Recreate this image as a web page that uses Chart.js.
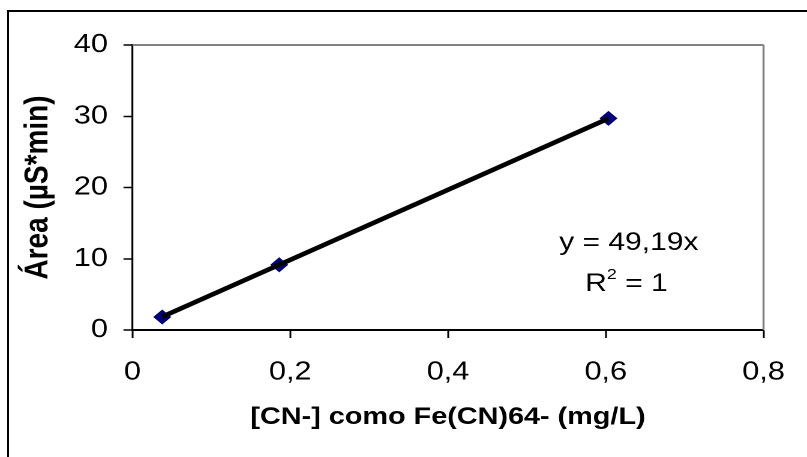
<!DOCTYPE html>
<html>
<head>
<meta charset="utf-8">
<script src="https://cdn.jsdelivr.net/npm/chart.js@4.4.0/dist/chart.umd.min.js"></script>
<style>
    html, body { margin: 0; padding: 0; background: #fff; overflow: hidden; width: 807px; height: 457px; }
    /* moldura do gráfico (só as bordas superior e esquerda ficam visíveis) */
    #frame { position: absolute; left: 7px; top: 10px; width: 900px; height: 500px;
             border-left: 2px solid #000; border-top: 2px solid #000; }
    /* o gráfico original é esticado na horizontal */
    #wrap { position: absolute; left: 0; top: 0; width: 673px; height: 457px;
            transform: scaleX(1.2); transform-origin: 0 0; }
</style>
</head>
<body>
<div id="frame"></div>
<div id="wrap"><canvas id="chart" width="673" height="457"></canvas></div>
<script>
// curva de calibração: [CN-] (mg/L) x área do pico (µS*min)
const concentracoes = [0.0377, 0.186, 0.6034];
const areas = [1.82, 9.15, 29.7];
const inclinacao = 49.19; // y = 49,19x
const xTicks = ['0', '0,2', '0,4', '0,6', '0,8'];
const yTicks = ['0', '10', '20', '30', '40'];

const fonte = 'Arial, "Liberation Sans", sans-serif';

// linha de tendência entre o menor e o maior ponto
const xMin = Math.min(...concentracoes);
const xMax = Math.max(...concentracoes);
const tendencia = [
    { x: xMin, y: inclinacao * xMin },
    { x: xMax, y: inclinacao * xMax }
];

// bordas cinzas do topo e da direita da área de plotagem
const bordaPlot = {
    id: 'bordaPlot',
    beforeDatasetsDraw(chart) {
        const { ctx, chartArea: a } = chart;
        ctx.save();
        ctx.strokeStyle = '#808080';
        ctx.lineWidth = 2;
        ctx.beginPath();
        ctx.moveTo(a.left, a.top);
        ctx.lineTo(a.right, a.top);
        ctx.stroke();
        ctx.lineWidth = 1.7;
        ctx.beginPath();
        ctx.moveTo(a.right, a.top);
        ctx.lineTo(a.right, a.bottom);
        ctx.stroke();
        ctx.restore();
    }
};

// equação da reta e R²
const equacao = {
    id: 'equacao',
    afterDatasetsDraw(chart) {
        const ctx = chart.ctx;
        const cx = 524, y1 = 250, y2 = 291;
        const grande = '25px ' + fonte, pequena = '15px ' + fonte;
        ctx.save();
        ctx.fillStyle = '#000';
        ctx.textBaseline = 'alphabetic';
        ctx.font = grande;
        ctx.textAlign = 'center';
        ctx.fillText('y = ' + inclinacao.toFixed(2).replace('.', ',') + 'x', cx, y1);

        ctx.textAlign = 'left';
        const wR = ctx.measureText('R').width;
        const wEq = ctx.measureText(' = 1').width;
        ctx.font = pequena;
        const w2 = ctx.measureText('2').width;
        let x = cx - 2 - (wR + w2 + wEq) / 2;
        ctx.font = grande;
        ctx.fillText('R', x, y2);
        x += wR;
        ctx.font = pequena;
        ctx.fillText('2', x, y2 - 12);
        x += w2;
        ctx.font = grande;
        ctx.fillText(' = 1', x, y2);
        ctx.restore();
    }
};

new Chart(document.getElementById('chart'), {
    type: 'scatter',
    data: {
        datasets: [{
            label: 'tendência',
            type: 'line',
            data: tendencia,
            borderColor: '#000',
            borderWidth: 4.5,
            pointRadius: 0,
            fill: false,
            order: 0
        }, {
            label: 'Área',
            data: concentracoes.map((c, i) => ({ x: c, y: areas[i] })),
            pointStyle: 'rectRot',
            pointRadius: 6.8,
            backgroundColor: '#000080',
            borderColor: '#000060',
            borderWidth: 1,
            order: 1
        }]
    },
    options: {
        responsive: false,
        devicePixelRatio: 2,
        animation: false,
        layout: { padding: { left: 0, top: 45, right: 29.7, bottom: 0 } },
        plugins: { legend: { display: false }, tooltip: { enabled: false } },
        scales: {
            x: {
                type: 'linear',
                min: 0,
                max: 0.8,
                ticks: {
                    stepSize: 0.2,
                    padding: 19,
                    color: '#000',
                    font: { family: fonte, size: 25.5 },
                    callback: (v, i) => xTicks[i]
                },
                grid: { drawOnChartArea: false, drawTicks: true, tickLength: 8, color: '#000', tickWidth: 1.5 },
                border: { display: true, color: '#000', width: 2 },
                title: {
                    display: true,
                    text: '[CN-] como Fe(CN)64- (mg/L)',
                    color: '#000',
                    font: { family: fonte, size: 24, weight: 'bold' },
                    padding: { top: 0, bottom: 25 }
                },
                afterFit(scale) { scale.height = 127; }
            },
            y: {
                min: 0,
                max: 40,
                ticks: {
                    stepSize: 10,
                    padding: 13,
                    color: '#000',
                    font: { family: fonte, size: 25.5 },
                    callback: (v, i) => yTicks[i]
                },
                grid: { drawOnChartArea: false, drawTicks: true, tickLength: 7.5, color: '#000', tickWidth: 1.5 },
                border: { display: true, color: '#000', width: 1.6 },
                title: {
                    display: true,
                    text: 'Área (µS*min)',
                    color: '#000',
                    font: { family: fonte, size: 28, weight: 'bold' },
                    padding: { top: 15, bottom: 0 }
                },
                afterFit(scale) { scale.width = 110.4; }
            }
        }
    },
    plugins: [bordaPlot, equacao]
});
</script>
</body>
</html>
